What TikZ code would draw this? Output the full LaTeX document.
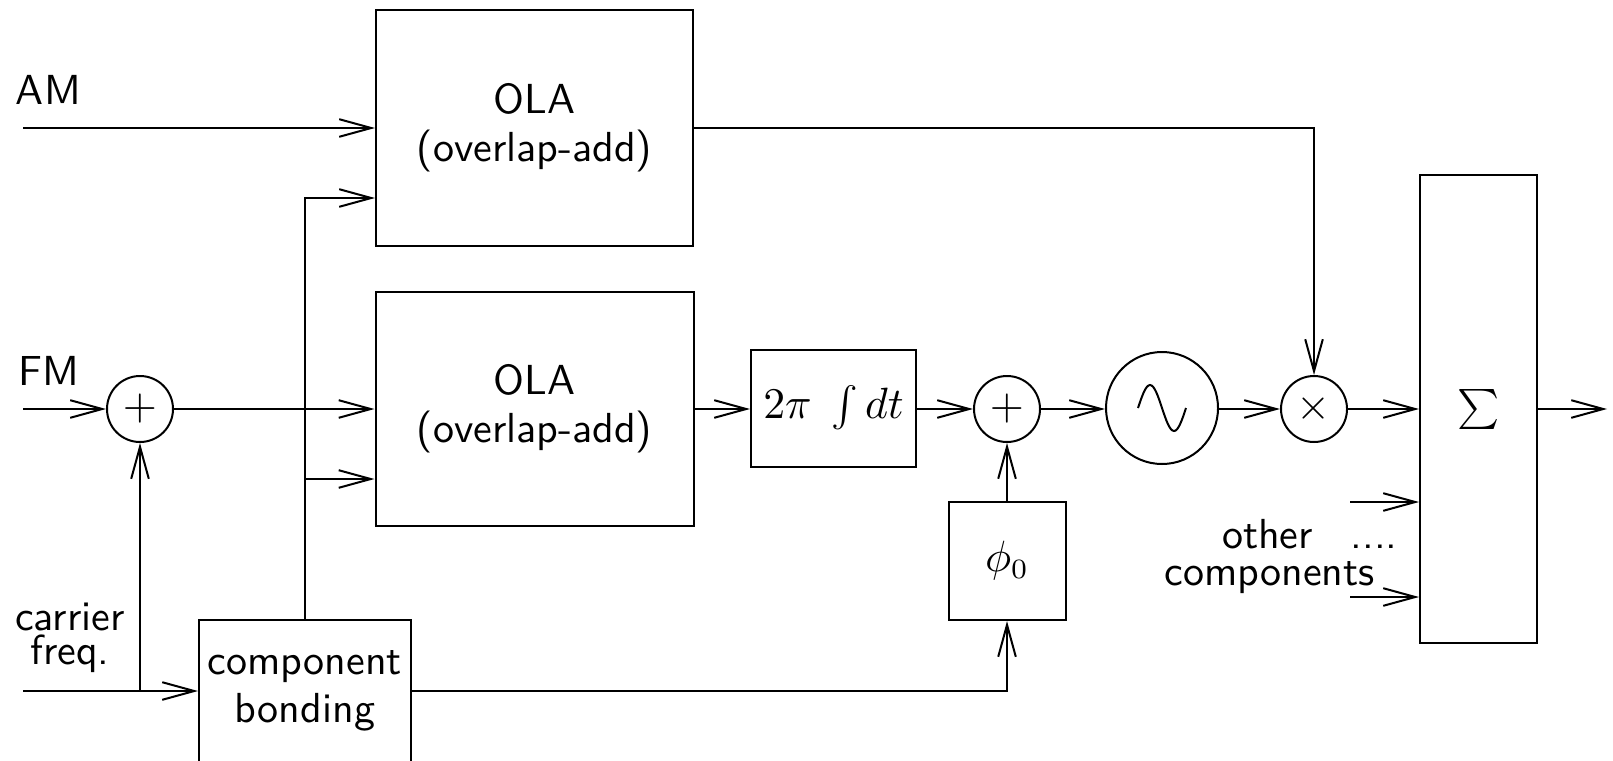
\documentclass[tikz,border=0pt]{standalone}
\usetikzlibrary{arrows.meta,calc}
\newcommand{\diagfont}{\sffamily\fontsize{10.5}{12}\selectfont}
\begin{document}
\begin{tikzpicture}[x=0.25pt,y=-0.25pt,
  line width=0.5pt,
  arr/.style={-{Straight Barb[length=8pt,width=4.4pt,line width=0.5pt]}},
  blk/.style={draw,inner sep=0pt,align=center,font=\diagfont},
  circ/.style={draw,circle,inner sep=0pt,minimum size=16.5pt,font=\diagfont},
  lbl/.style={inner sep=0pt,font=\diagfont}]
\useasboundingbox (0,0) rectangle (1613,760);
\clip (0,0) rectangle (1613,760);
% blocks
\node[blk,minimum width=79.25pt,minimum height=59pt] (ola1) at (534.5,128) {OLA\\(overlap-add)};
\node[blk,minimum width=79.5pt,minimum height=58.5pt] (ola2) at (534.5,409) {OLA\\(overlap-add)};
\node[blk,minimum width=53pt,minimum height=35.5pt] (bond) at (305,691) {component\\bonding};
\node[blk,minimum width=41.25pt,minimum height=29.25pt] (int) at (833.5,408) {$2\pi\;\int dt$};
\node[blk,minimum width=29.25pt,minimum height=29.5pt] (phi) at (1007,561) {$\phi_0$};
\node[blk,minimum width=29.25pt,minimum height=117pt] (sig) at (1478.5,409) {$\textstyle\sum$};
\node[circ] (p1) at (140,409) {$+$};
\node[circ] (p2) at (1007,409) {$+$};
\node[circ,minimum size=28pt] (osc) at (1162,408) {};
\node[circ] (mul) at (1314,409) {$\times$};
% sine inside oscillator
\draw (osc.center) ++(-24,0) sin ++(12,-23) cos ++(12,23) sin ++(12,23) cos ++(12,-23);
% labels
\node[lbl,anchor=base west] (am) at (15,104) {AM};
\node[lbl,anchor=base west] (fm) at (18,385) {FM};
\node[lbl,align=center,font=\sffamily\fontsize{10.5}{8.4}\selectfont] (cf) at (70,638) {carrier\\freq.};
\node[lbl,anchor=base] (oth) at (1267.5,548) {other};
\node[lbl,anchor=base] (dots) at (1374,548) {....};
\node[lbl,anchor=base] (comp) at (1269.5,585) {components};
% free ends
\coordinate (amin) at (23,128);
\coordinate (fmin) at (23,409);
\coordinate (cfin) at (23,691);
\coordinate (out) at (1607,409);
\coordinate (oc1) at (1350,502);
\coordinate (oc2) at (1350,597);
% connectors
\draw[arr] (amin) -- (ola1.west);
\draw[arr] (fmin) -- (p1.west);
\draw[arr] (p1.east) -- (ola2.west);
\draw[arr] (bond.north) |- (ola1.west |- 0,198);
\draw[arr] (bond.north |- 0,479) -- (ola2.west |- 0,479);
\draw[arr] (cfin) -- (bond.west);
\draw[arr] (cfin -| p1.south) -- (p1.south);
\draw[arr] (ola2.east |- 0,409) -- (int.west |- 0,409);
\draw[arr] (int.east |- 0,409) -- (p2.west);
\draw[arr] (p2.east) -- (osc.west |- 0,409);
\draw[arr] (osc.east |- 0,409) -- (mul.west);
\draw[arr] (mul.east) -- (sig.west);
\draw[arr] (sig.east) -- (out);
\draw[arr] (ola1.east) -| (mul.north);
\draw[arr] (bond.east) -| (phi.south);
\draw[arr] (phi.north) -- (p2.south);
\draw[arr] (oc1) -- (sig.west |- oc1);
\draw[arr] (oc2) -- (sig.west |- oc2);
\end{tikzpicture}
\end{document}
